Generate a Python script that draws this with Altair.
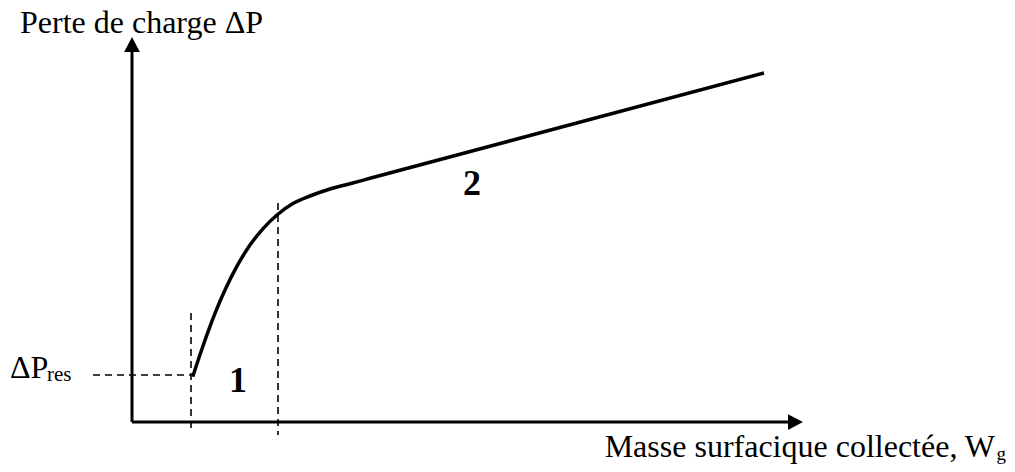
import altair as alt
import pandas as pd

# Curve: pressure drop vs collected surface mass (schematic units)
curve_x = [6.07, 7.13, 8.3, 9.3, 10.47, 11.8, 13.13, 14.5, 16.13, 17.8, 19.8, 21.8, 23.8, 63.2]
curve_y = [4.53, 7.7, 10.87, 13.2, 15.53, 17.7, 19.37, 20.7, 21.87, 22.6, 23.3, 23.83, 24.37, 34.9]

# Axes (origin + ends)
axis_x0 = [0.0, 0.0]
axis_y0 = [0.0, 0.0]
axis_x1 = [0.0, 65.8]
axis_y1 = [37.2, 0.0]
arrow_x = [0.0, 66.35]
arrow_y = [37.75, 0.0]

# Dashed guides
guide_x0 = [5.9, 14.6, -3.9]
guide_x1 = [5.9, 14.6, 5.9]
guide_y0 = [10.9, 21.9, 4.7]
guide_y1 = [-1.0, -1.3, 4.7]

# Labels
ylabel_text = "Perte de charge ΔP"
xlabel_text = "Masse surfacique collectée, W"
zone_labels = ["1", "2"]
zone_x = [10.6, 34.0]
zone_y = [3.0, 22.7]

X_DOM = [-12.4, 87.5]
Y_DOM = [-4.2, 41.4]
FONT = "Liberation Serif"

xs = alt.Scale(domain=X_DOM, nice=False, zero=False)
ys = alt.Scale(domain=Y_DOM, nice=False, zero=False)

def X(f="x"):
    return alt.X(f"{f}:Q", scale=xs, axis=None)

def Y(f="y"):
    return alt.Y(f"{f}:Q", scale=ys, axis=None)

curve_df = pd.DataFrame({"x": curve_x, "y": curve_y})
curve = alt.Chart(curve_df).mark_line(
    color="black", strokeWidth=3.5, interpolate="monotone", clip=False
).encode(x=X(), y=Y())

axes_df = pd.DataFrame({"x": axis_x0, "y": axis_y0, "x2": axis_x1, "y2": axis_y1})
axes = alt.Chart(axes_df).mark_rule(color="black", strokeWidth=3).encode(
    x=X(), y=Y(), x2="x2:Q", y2="y2:Q"
)

arrow_df = pd.DataFrame({"x": arrow_x, "y": arrow_y, "dir": ["up", "right"]})
arrow_up = alt.Chart(arrow_df[arrow_df.dir == "up"]).mark_point(
    shape="M0,-1L1.05,1L-1.05,1Z", size=225, filled=True, color="black", opacity=1
).encode(x=X(), y=Y())
arrow_right = alt.Chart(arrow_df[arrow_df.dir == "right"]).mark_point(
    shape="M1,0L-1,-1.05L-1,1.05Z", size=225, filled=True, color="black", opacity=1
).encode(x=X(), y=Y())

guide_df = pd.DataFrame({"x": guide_x0, "x2": guide_x1, "y": guide_y0, "y2": guide_y1})
guides = alt.Chart(guide_df).mark_rule(
    color="black", strokeWidth=1.6, strokeDash=[7, 5]
).encode(x=X(), y=Y(), x2="x2:Q", y2="y2:Q")

def text_layer(df, **kw):
    return alt.Chart(df).mark_text(font=FONT, color="black", baseline="alphabetic", **kw).encode(
        x=X(), y=Y(), text="t:N"
    )

ylabel = text_layer(pd.DataFrame({"x": [-11.2], "y": [38.9], "t": [ylabel_text]}),
                    align="left", fontSize=32)
xlabel = text_layer(pd.DataFrame({"x": [86.3], "y": [-3.5], "t": [xlabel_text]}),
                    align="right", fontSize=32)
xsub = text_layer(pd.DataFrame({"x": [86.45], "y": [-3.8], "t": ["g"]}),
                  align="left", fontSize=19)
dp = text_layer(pd.DataFrame({"x": [-12.2], "y": [4.4], "t": ["ΔP"]}),
                align="left", fontSize=32)
dpsub = text_layer(pd.DataFrame({"x": [-8.5], "y": [4.1], "t": ["res"]}),
                   align="left", fontSize=21)
zones = text_layer(pd.DataFrame({"x": zone_x, "y": zone_y, "t": zone_labels}),
                   align="center", fontSize=36, fontWeight="bold")

chart = alt.layer(
    guides, axes, arrow_up, arrow_right, curve, ylabel, xlabel, xsub, dp, dpsub, zones
).properties(
    width=999, height=456, padding=0, autosize=alt.AutoSizeParams(type="none")
).configure_view(stroke=None)

chart.save("out.html", embed_options={"renderer": "svg", "actions": False})
